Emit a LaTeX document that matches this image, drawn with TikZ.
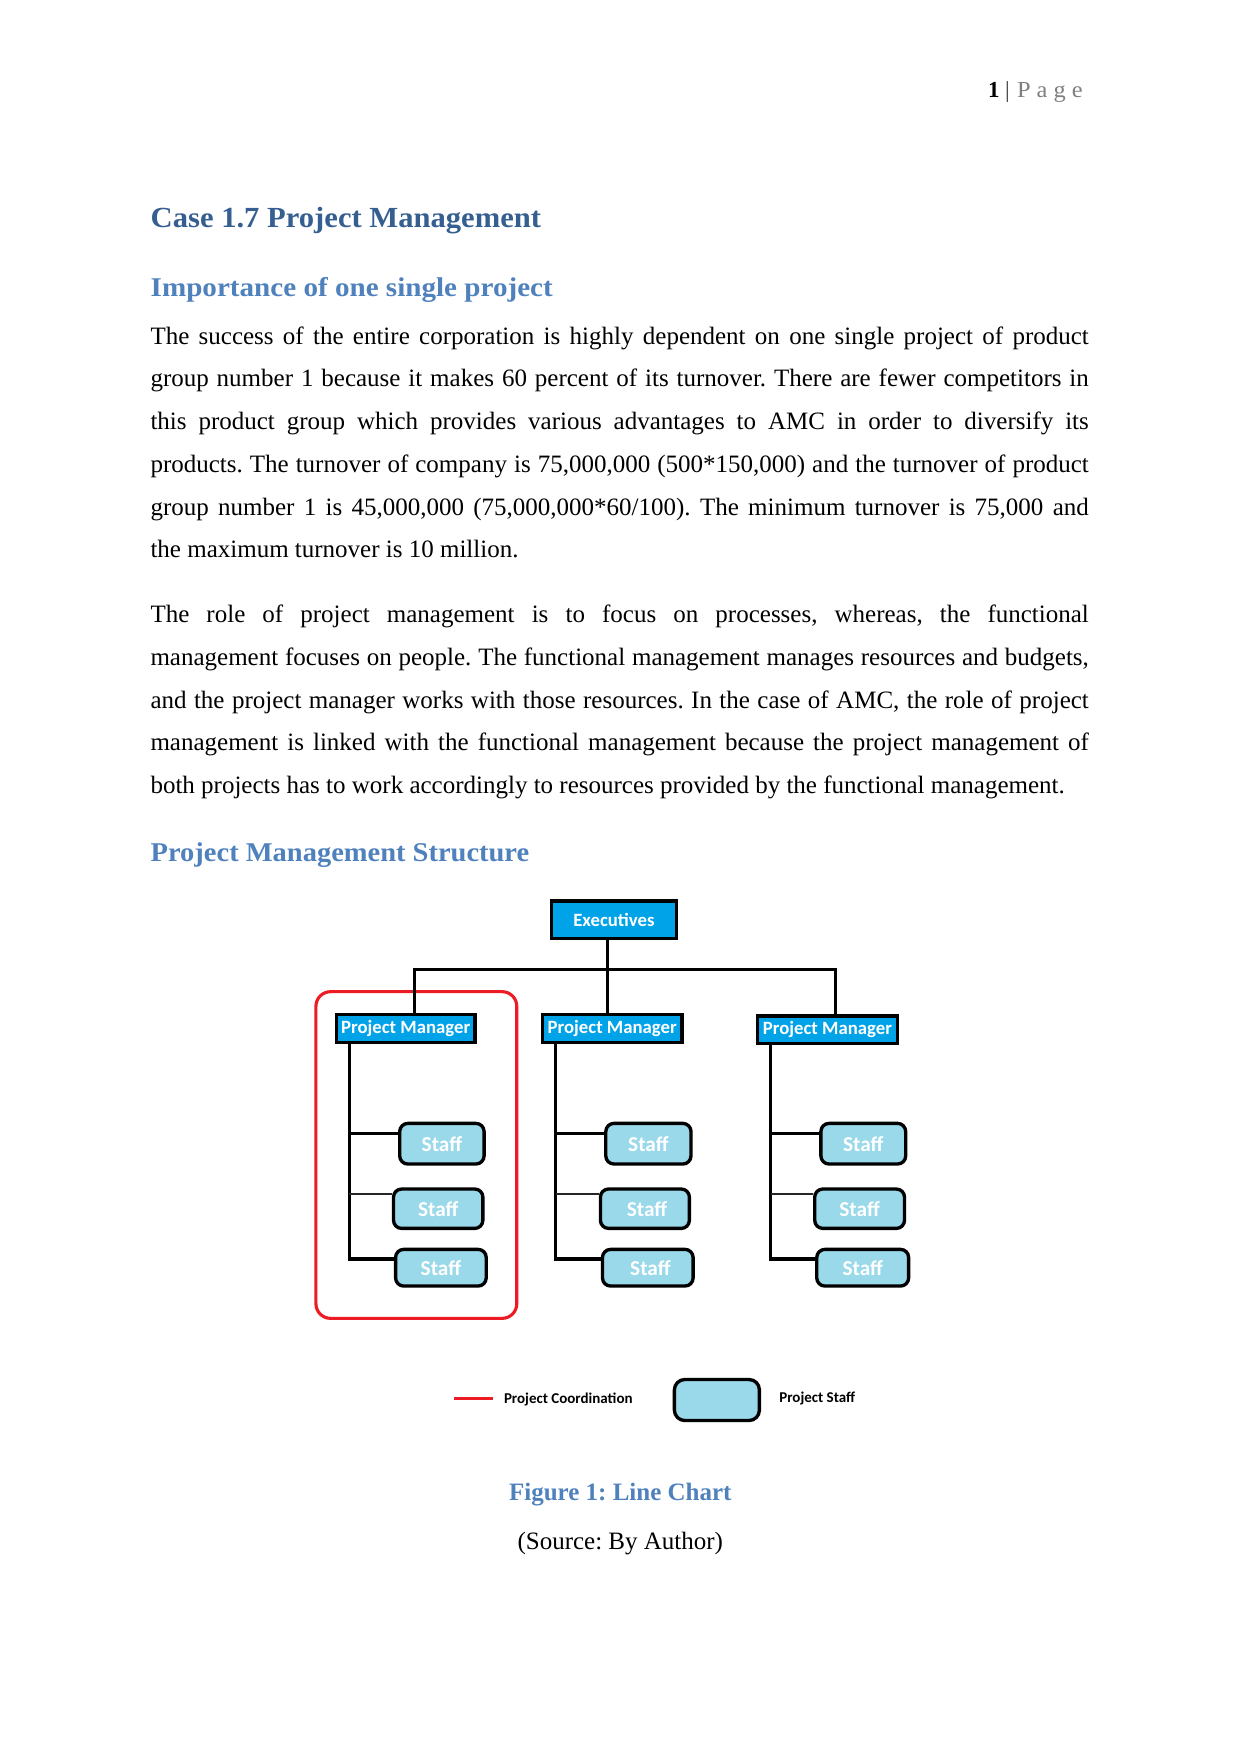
\documentclass[tikz,border=0pt]{standalone}
\usepackage{fontspec}
\setmainfont{Liberation Serif}
\newfontfamily\calib{Carlito}
\usepackage{graphicx}
\frenchspacing
\definecolor{pmblue}{RGB}{0,162,232}
\definecolor{stafffill}{RGB}{153,217,234}
\definecolor{coordred}{RGB}{237,28,36}
\definecolor{hone}{RGB}{54,95,145}
\definecolor{htwo}{RGB}{79,129,189}
\definecolor{pagegray}{RGB}{127,127,127}
\tikzset{
  txt/.style={inner sep=0pt, outer sep=0pt, anchor=base west},
  bodyline/.style={txt, font=\fontsize{12}{14}\selectfont},
  pmbox/.style={draw=black, line width=1.6pt, fill=pmblue, text=white, inner sep=0pt,
    font=\calib\bfseries\fontsize{9}{10}\selectfont},
  staffbox/.style={draw=black, line width=1.6pt, fill=stafffill, text=white, inner sep=0pt,
    rounded corners=3.9pt, font=\calib\bfseries\fontsize{10.2}{11}\selectfont},
  conn/.style={line width=1.5pt, draw=black},
  thinconn/.style={line width=0.8pt, draw=black!85},
  coordbox/.style={draw=coordred, line width=1.5pt, rounded corners=7pt, inner sep=0pt},
  legtxt/.style={txt, font=\calib\bfseries\fontsize{7.2}{8}\selectfont}
}
\begin{document}
\begin{tikzpicture}[x=0.48pt,y=-0.48pt]
\fill[white] (0,0) rectangle (1241,1754);
\path[use as bounding box] (0,0) rectangle (1241,1754);

% header
\node[txt, font=\fontsize{11}{12}\selectfont\bfseries] (pgnum) at (988,97) {1};
\node[txt, font=\fontsize{11}{12}\selectfont, text=black!80] (pgbar) at (1005,97) {|};
\node[txt, font=\fontsize{11}{12}\selectfont, text=pagegray] (pgword) at (1017,97) {\resizebox{31.5pt}{\height}{P a g e}};

% headings
\node[txt, text=hone] (h1) at (150.7,227) {\resizebox{187.4pt}{\height}{\fontsize{14}{16}\selectfont\bfseries Case 1.7 Project Management}};
\node[txt, text=htwo] (h2) at (150.7,296.5) {\resizebox{193pt}{\height}{\fontsize{13}{15}\selectfont\bfseries Importance of one single project}};

% paragraph 1
\node[bodyline] (a1) at (150.5,344) {\makebox[450.4pt][s]{The success of the entire corporation is highly dependent on one single project of product}};
\node[bodyline] (a2) at (150.5,386.7) {\makebox[450.4pt][s]{group number 1 because it makes 60 percent of its turnover. There are fewer competitors in}};
\node[bodyline] (a3) at (150.5,429.5) {\makebox[450.4pt][s]{this product group which provides various advantages to AMC in order to diversify its}};
\node[bodyline] (a4) at (150.5,472.2) {\makebox[450.4pt][s]{products. The turnover of company is 75,000,000 (500*150,000) and the turnover of product}};
\node[bodyline] (a5) at (150.5,515) {\makebox[450.4pt][s]{group number 1 is 45,000,000 (75,000,000*60/100). The minimum turnover is 75,000 and}};
\node[bodyline] (a6) at (150.5,557.7) {the maximum turnover is 10 million.};

% paragraph 2
\node[bodyline] (b1) at (150.5,622.5) {\makebox[450.4pt][s]{The role of project management is to focus on processes, whereas, the functional}};
\node[bodyline] (b2) at (150.5,665.2) {\makebox[450.4pt][s]{management focuses on people. The functional management manages resources and budgets,}};
\node[bodyline] (b3) at (150.5,708) {\makebox[450.4pt][s]{and the project manager works with those resources. In the case of AMC, the role of project}};
\node[bodyline] (b4) at (150.5,750.7) {\makebox[450.4pt][s]{management is linked with the functional management because the project management of}};
\node[bodyline] (b5) at (150.5,793.5) {both projects has to work accordingly to resources provided by the functional management.};

\node[txt, text=htwo] (h3) at (150.7,861) {\resizebox{181.7pt}{\height}{\fontsize{13}{15}\selectfont\bfseries Project Management Structure}};

% diagram: red coordination frame
\node[coordbox, minimum width=96.4pt, minimum height=156.8pt] (coord) at (416.35,1155) {};

% executives and managers
\node[pmbox, minimum width=60pt, minimum height=18pt] (exec) at (613.9,919.7) {Executives\hspace{4.8pt}};
\node[pmbox, minimum width=66.6pt, minimum height=13.4pt] (pm1) at (405.7,1028.4) {Project Manager};
\node[pmbox, minimum width=67pt, minimum height=13.4pt] (pm2) at (612.25,1028.4) {Project Manager};
\node[pmbox, minimum width=67pt, minimum height=13.2pt] (pm3) at (827.4,1029.7) {Project Manager};

% staff
\node[staffbox, minimum width=40.5pt, minimum height=19.5pt] (s11) at (441.9,1143.7) {Staff\hspace{5pt}};
\node[staffbox, minimum width=42.9pt, minimum height=18.9pt] (s12) at (438.2,1208.7) {Staff};
\node[staffbox, minimum width=43.5pt, minimum height=17.6pt] (s13) at (440.9,1267.7) {Staff};
\node[staffbox, minimum width=40.9pt, minimum height=19.5pt] (s21) at (648.4,1143.7) {Staff};
\node[staffbox, minimum width=42.7pt, minimum height=18.9pt] (s22) at (644.9,1208.7) {\hspace{2pt}Staff};
\node[staffbox, minimum width=43.5pt, minimum height=17.6pt] (s23) at (647.8,1267.7) {\hspace{2.5pt}Staff};
\node[staffbox, minimum width=40.7pt, minimum height=19.5pt] (s31) at (863.3,1143.7) {Staff};
\node[staffbox, minimum width=43.1pt, minimum height=18.9pt] (s32) at (859.6,1208.7) {Staff};
\node[staffbox, minimum width=44.1pt, minimum height=17.6pt] (s33) at (862.7,1267.7) {Staff};

% top connectors
\coordinate (barL) at (414.3,969.5);
\coordinate (barM) at (607.3,969.5);
\coordinate (barR) at (835.9,969.5);
\draw[conn] (barM |- exec.south) -- (barM |- pm2.north);
\draw[conn] (barL |- pm1.north) -- (barL) -- (barR) -- (barR |- pm3.north);

% column connectors
\coordinate (c1) at (349.4,1259);
\coordinate (c2) at (555.5,1259);
\coordinate (c3) at (770.6,1259);
\coordinate (r1) at (0,1133.3);
\coordinate (r2) at (0,1194.3);
\draw[conn] (c1 |- pm1.south) -- (c1) -- (c1 -| s13.west);
\draw[conn] (c1 |- r1) -- (s11.west |- r1);
\draw[thinconn] (c1 |- r2) -- (s12.west |- r2);
\draw[conn] (c2 |- pm2.south) -- (c2) -- (c2 -| s23.west);
\draw[conn] (c2 |- r1) -- (s21.west |- r1);
\draw[thinconn] (c2 |- r2) -- (s22.west |- r2);
\draw[conn] (c3 |- pm3.south) -- (c3) -- (c3 -| s33.west);
\draw[conn] (c3 |- r1) -- (s31.west |- r1);
\draw[thinconn] (c3 |- r2) -- (s32.west |- r2);

% legend
\coordinate (lgA) at (454,1398);
\coordinate (lgB) at (493,1398);
\draw[draw=coordred, line width=1.45pt] (lgA) -- (lgB);
\node[legtxt] (lgcoord) at (504,1403.3) {Project Coordination};
\node[staffbox, rounded corners=5pt, minimum width=40.8pt, minimum height=19.7pt] (lgbox) at (716.9,1400) {};
\node[legtxt] (lgstaff) at (779.3,1402.3) {Project Staff};

% caption
\node[inner sep=0pt, anchor=base, text=htwo, font=\fontsize{12}{14}\selectfont\bfseries] (cap) at (620.3,1500.7) {Figure 1: Line Chart};
\node[inner sep=0pt, anchor=base, font=\fontsize{12}{14}\selectfont] (src) at (620.3,1549.3) {(Source: By Author)};
\end{tikzpicture}
\end{document}
